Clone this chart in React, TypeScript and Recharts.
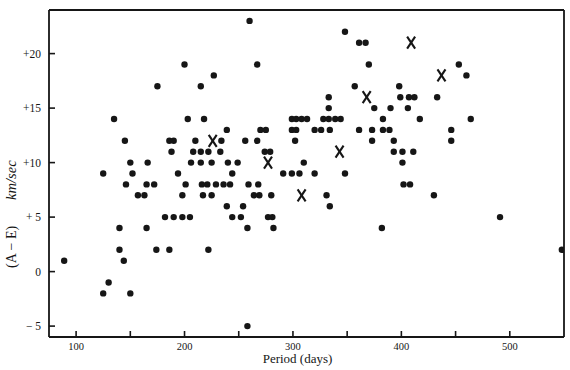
import React from 'react';
import { ScatterChart, Scatter, XAxis, YAxis, Label } from 'recharts';

const dotPeriods = [
  89, 125, 130, 125, 135, 140, 140, 144, 145, 146,
  150, 150, 152, 157, 163, 165, 165, 166, 172, 174,
  175, 182, 186, 186, 188, 190, 190, 194, 198, 198,
  200, 201, 203, 205, 206, 208, 210, 215, 215, 215,
  216, 217, 218, 221, 222, 222, 225, 225, 227, 229,
  233, 234, 236, 239, 239, 240, 242, 244, 244, 249,
  252, 254, 256, 258, 258, 259, 260, 264, 267, 267,
  268, 269, 270, 274, 275, 277, 279, 280, 281, 282,
  291, 299, 299, 299, 302, 303, 303, 306, 308, 310,
  313, 320, 320, 326, 328, 331, 333, 333, 333, 334,
  334, 339, 344, 348, 348, 357, 361, 361, 367, 370,
  373, 373, 375, 383, 383, 382, 389, 390, 393, 393,
  398, 399, 401, 401, 402, 406, 407, 408, 411, 412,
  417, 430, 433, 446, 446, 453, 460, 464, 491, 548,
];
const dotVelocities = [
  1, -2, -1, 9, 14, 4, 2, 1, 12, 8,
  10, -2, 9, 7, 7, 8, 4, 10, 8, 2,
  17, 5, 12, 2, 11, 12, 5, 9, 7, 5,
  19, 8, 14, 5, 10, 11, 12, 17, 11, 10,
  8, 7, 14, 8, 11, 2, 10, 7, 18, 8,
  11, 12, 8, 13, 6, 10, 8, 9, 5, 10,
  5, 6, 12, 4, -5, 8, 23, 7, 12, 19,
  8, 7, 13, 11, 13, 5, 11, 7, 5, 4,
  9, 14, 13, 9, 12, 14, 13, 9, 14, 10,
  14, 13, 9, 13, 14, 7, 16, 15, 14, 13,
  6, 14, 14, 22, 9, 17, 21, 13, 21, 19,
  13, 12, 15, 14, 13, 4, 13, 15, 12, 11,
  17, 16, 11, 10, 8, 15, 16, 8, 11, 16,
  14, 7, 16, 13, 12, 19, 18, 14, 5, 2,
];
const crossPeriods = [226, 277, 308, 343, 368, 409, 437];
const crossVelocities = [12, 10, 7, 11, 16, 21, 18];

const xTicks = [100, 150, 200, 250, 300, 350, 400, 450, 500];
const xLabelValues = [100, 200, 300, 400, 500];
const xLabelTexts = ['100', '200', '300', '400', '500'];
const yTicks = [-5, 0, 5, 10, 15, 20];
const yTickLabels = ['\u2212 5', '0', '+ 5', '+10', '+15', '+20'];

const dots = dotPeriods.map((p, i) => ({ x: p, y: dotVelocities[i] }));
const crosses = crossPeriods.map((p, i) => ({ x: p, y: crossVelocities[i] }));

const INK = '#161616';
const FONT = '"Liberation Serif", "DejaVu Serif", serif';

const Dot = (props: any) => <circle cx={props.cx} cy={props.cy} r={3.2} fill={INK} />;
const Cross = (props: any) => {
  const { cx, cy } = props;
  return (
    <g stroke={INK} strokeWidth={2.1} strokeLinecap="butt">
      <line x1={cx - 4} y1={cy - 6} x2={cx + 4} y2={cy + 6} />
      <line x1={cx + 4} y1={cy - 6} x2={cx - 4} y2={cy + 6} />
    </g>
  );
};

const XTick = (props: any) => {
  const { x, y, payload } = props;
  const idx = xLabelValues.indexOf(payload.value);
  return (
    <g>
      <line x1={x} x2={x} y1={y} y2={y - 6} stroke={INK} strokeWidth={1.6} />
      {idx >= 0 && (
        <text x={x} y={y + 13} textAnchor="middle" fontFamily={FONT} fontSize={10.5} fill={INK}>
          {xLabelTexts[idx]}
        </text>
      )}
    </g>
  );
};

const YTick = (props: any) => {
  const { x, y, payload } = props;
  const idx = yTicks.indexOf(payload.value);
  return (
    <g>
      <line x1={x} x2={x + 6} y1={y} y2={y} stroke={INK} strokeWidth={1.6} />
      <text x={x - 8} y={y + 4} textAnchor="end" fontFamily={FONT} fontSize={11.5} fill={INK}>
        {yTickLabels[idx]}
      </text>
    </g>
  );
};

const XTitle = (props: any) => {
  const vb = props.viewBox;
  return (
    <text x={vb.x + vb.width / 2 - 9} y={vb.y + 26} textAnchor="middle" fontFamily={FONT} fontSize={13} fill={INK}>
      Period (days)
    </text>
  );
};

const YTitle = () => {
  const cx = 16;
  const cy = 268;
  return (
    <text x={cx} y={cy} textAnchor="start" transform={`rotate(-90 ${cx} ${cy})`} fontFamily={FONT} fontSize={14} fill={INK}>
      <tspan>(A {'\u2212'} E)</tspan>
      <tspan dx={26} fontStyle="italic" fontSize={14.5}>km/sec</tspan>
    </text>
  );
};

export default function App() {
  return (
    <div style={{ position: 'absolute', left: 0, top: 0, width: 570, height: 370, background: '#fff' }}>
      <ScatterChart width={570} height={370} margin={{ top: 10, right: 6, bottom: 0, left: 0 }}>
        <XAxis
          type="number"
          dataKey="x"
          domain={[75, 550]}
          ticks={xTicks}
          allowDataOverflow
          height={33}
          tickSize={0}
          tickMargin={0}
          tickLine={false}
          tick={<XTick />}
          axisLine={{ stroke: INK, strokeWidth: 1.8 }}
          interval={0}
        >
          <Label content={<XTitle />} />
        </XAxis>
        <XAxis
          xAxisId="top"
          orientation="top"
          type="number"
          dataKey="x"
          domain={[75, 550]}
          ticks={xTicks}
          allowDataOverflow
          height={1}
          mirror
          tick={false}
          tickSize={6}
          tickLine={{ stroke: INK, strokeWidth: 1.6 }}
          axisLine={{ stroke: INK, strokeWidth: 1.8 }}
          interval={0}
        />
        <YAxis
          type="number"
          dataKey="y"
          domain={[-6, 24]}
          ticks={yTicks}
          allowDataOverflow
          width={49}
          tickSize={0}
          tickMargin={0}
          tickLine={false}
          tick={<YTick />}
          axisLine={{ stroke: INK, strokeWidth: 1.8 }}
          interval={0}
        >
          <Label content={<YTitle />} />
        </YAxis>
        <YAxis
          yAxisId="right"
          orientation="right"
          type="number"
          dataKey="y"
          domain={[-6, 24]}
          ticks={yTicks}
          allowDataOverflow
          width={1}
          mirror
          tick={false}
          tickSize={6}
          tickLine={{ stroke: INK, strokeWidth: 1.6 }}
          axisLine={{ stroke: INK, strokeWidth: 1.8 }}
          interval={0}
        />
        <Scatter data={dots} shape={<Dot />} isAnimationActive={false} />
        <Scatter data={crosses} shape={<Cross />} isAnimationActive={false} />
        <Scatter data={[]} xAxisId="top" yAxisId="right" isAnimationActive={false} />
      </ScatterChart>
    </div>
  );
}
